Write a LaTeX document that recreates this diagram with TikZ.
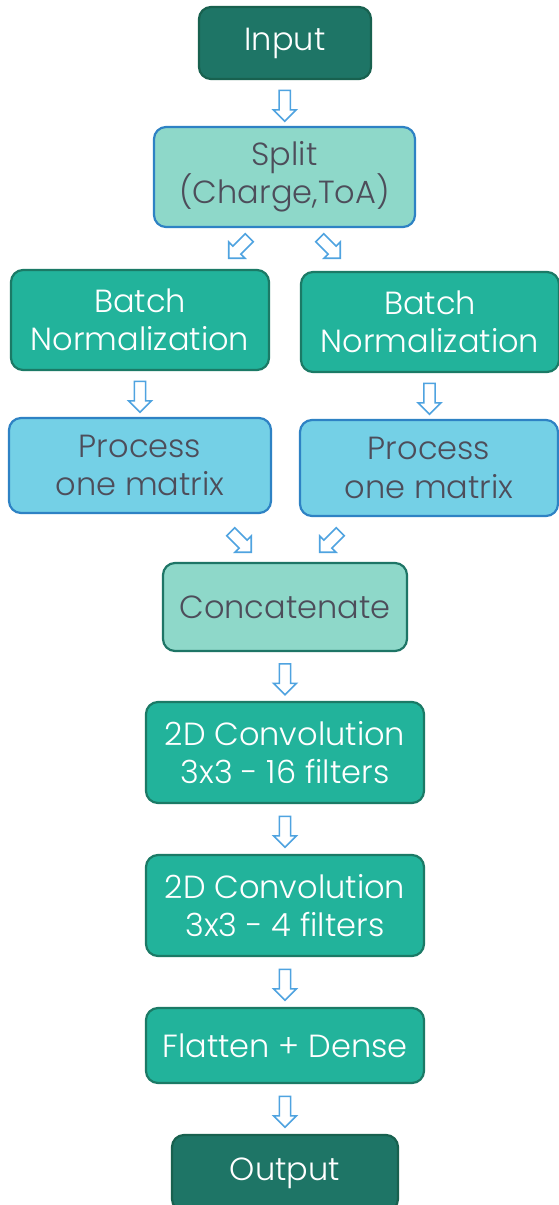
\documentclass[tikz,border=0pt]{standalone}
\usepackage{fontspec}
\setmainfont{Poppins}[UprightFont=* Light]
\usetikzlibrary{shapes.arrows,calc}
\definecolor{darkteal}{HTML}{1E7566}
\definecolor{darktealb}{HTML}{18614F}
\definecolor{midteal}{HTML}{22B39B}
\definecolor{midtealb}{HTML}{1B7A66}
\definecolor{lightteal}{HTML}{8ED8C9}
\definecolor{lightblue}{HTML}{74D0E6}
\definecolor{blueb}{HTML}{2E82C4}
\definecolor{graytext}{HTML}{4D4D5A}
\definecolor{arrowc}{HTML}{4FA3E0}
\begin{document}
\begin{tikzpicture}[x=1pt,y=1pt,
  box/.style={rounded corners=12pt, line width=2.2pt, align=center,
    font=\fontsize{32}{38.5}\selectfont, inner sep=0pt},
  darkbox/.style={box, fill=darkteal, draw=darktealb, text=white},
  midbox/.style={box, fill=midteal, draw=midtealb, text=white},
  splitbox/.style={box, fill=lightteal, draw=blueb, text=graytext},
  concbox/.style={box, fill=lightteal, draw=darkteal, text=graytext},
  procbox/.style={box, fill=lightblue, draw=blueb, text=graytext},
  barrow/.style={single arrow, draw=arrowc, fill=white, line width=1.6pt,
    minimum height=31pt, inner xsep=0pt, inner ysep=4.8pt,
    single arrow head extend=5.8pt, anchor=center},
  sarrow/.style={barrow, minimum height=29pt}]
\useasboundingbox (0,0) rectangle (558,-1205);
\fill[white] (0,0) rectangle (558,-1205);

\node[darkbox, minimum width=172pt, minimum height=72pt] (in) at (285,-43) {Input};
\node[splitbox, minimum width=261pt, minimum height=100pt] (split) at (284.5,-177) {Split\\(Charge,ToA)};
\node[midbox, minimum width=258pt, minimum height=100pt] (bnl) at (140,-320) {Batch\\Normalization};
\node[midbox, minimum width=258pt, minimum height=100pt] (bnr) at (430,-322) {Batch\\Normalization};
\node[procbox, minimum width=262pt, minimum height=95pt] (pl) at (140,-465.5) {Process\\one matrix};
\node[procbox, minimum width=258pt, minimum height=96pt] (pr) at (429,-468) {Process\\one matrix};
\node[concbox, minimum width=244pt, minimum height=88pt] (conc) at (285,-607) {Concatenate};
\node[midbox, minimum width=278pt, minimum height=101pt] (c1) at (285,-752.5) {2D Convolution\\3x3 - 16 filters};
\node[midbox, minimum width=278pt, minimum height=101pt] (c2) at (285,-905.5) {2D Convolution\\3x3 - 4 filters};
\node[midbox, minimum width=278pt, minimum height=75pt] (fl) at (285,-1045.5) {Flatten + Dense};
\node[darkbox, minimum width=226pt, minimum height=76pt] (out) at (285,-1173) {Output};

\node[barrow, rotate=-90] (a1) at ($(in.south)!0.5!(split.north)$) {};
\node[sarrow, rotate=-135] (a2) at (241,-246) {};
\node[sarrow, rotate=-45] (a3) at (328,-246) {};
\node[barrow, rotate=-90] (a4) at ($(bnl.south)!0.5!(pl.north)$) {};
\node[barrow, rotate=-90] (a5) at ($(bnr.south)!0.5!(pr.north)$) {};
\node[sarrow, rotate=-45] (a6) at (239,-540) {};
\node[sarrow, rotate=-135] (a7) at (332,-540) {};
\node[barrow, rotate=-90] (a8) at ($(conc.south)!0.5!(c1.north)$) {};
\node[barrow, rotate=-90] (a9) at ($(c1.south)!0.5!(c2.north)$) {};
\node[barrow, rotate=-90] (a10) at ($(c2.south)!0.5!(fl.north)$) {};
\node[barrow, rotate=-90] (a11) at ($(fl.south)!0.5!(out.north)$) {};
\end{tikzpicture}
\end{document}
